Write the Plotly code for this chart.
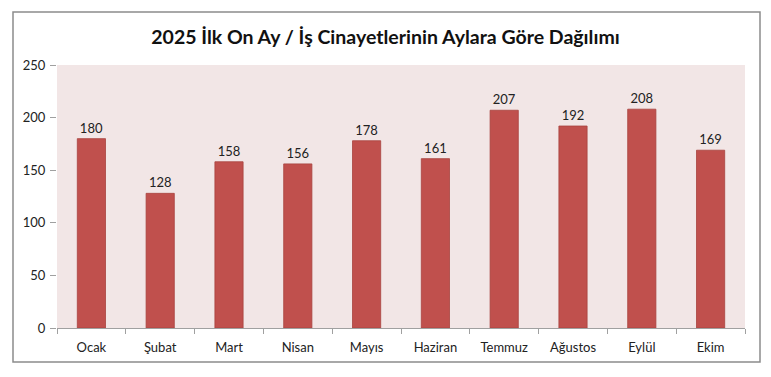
import plotly.graph_objects as go

months = ["Ocak", "Şubat", "Mart", "Nisan", "Mayıs", "Haziran", "Temmuz", "Ağustos", "Eylül", "Ekim"]
deaths = [180, 128, 158, 156, 178, 161, 207, 192, 208, 169]
y_ticks = [0, 50, 100, 150, 200, 250]
title_text = "2025 İlk On Ay / İş Cinayetlerinin Aylara Göre Dağılımı"

font_family = "Lato, 'Open Sans', sans-serif"

fig = go.Figure()
fig.add_trace(go.Bar(
    x=months, y=deaths,
    marker=dict(color="#C0504D", line=dict(color="#A8423F", width=0.8)),
    width=0.41,
    text=[str(v) for v in deaths], textposition="outside",
    textfont=dict(size=13, color="#222222", family=font_family),
    cliponaxis=False, hoverinfo="skip",
))

fig.update_layout(
    width=771, height=377,
    margin=dict(l=57, r=26, t=65, b=49),
    paper_bgcolor="white",
    plot_bgcolor="#F2E6E6",
    showlegend=False,
    font=dict(family=font_family, size=13, color="#222222"),
    title=dict(text=title_text, x=0.5, xanchor="center", y=1 - 37 / 377, yanchor="middle",
               font=dict(size=19.5, color="#111111", family=font_family, weight="bold")),
    xaxis=dict(
        showline=True, linecolor="#A0A0A0", linewidth=1,
        ticks="outside", tickson="boundaries", ticklen=5, tickcolor="#A0A0A0",
        showgrid=False, tickfont=dict(size=13), fixedrange=True,
        ticklabelstandoff=7,
    ),
    yaxis=dict(
        range=[0, 250], tickvals=y_ticks, showgrid=False, zeroline=False,
        showline=False, ticks="outside", ticklen=6, tickcolor="#A0A0A0",
        tickfont=dict(size=13), fixedrange=True, ticklabelstandoff=2,
    ),
    shapes=[dict(type="rect", xref="paper", yref="paper",
                 x0=-44 / 688, x1=1 + 15 / 688, y0=-34 / 263, y1=1 + 53 / 263,
                 line=dict(color="#8C8C8C", width=1.5), fillcolor="rgba(0,0,0,0)", layer="below")],
)

fig.write_html("out.html", config={"displayModeBar": False, "staticPlot": True},
               post_script="document.body.style.margin='0';")
